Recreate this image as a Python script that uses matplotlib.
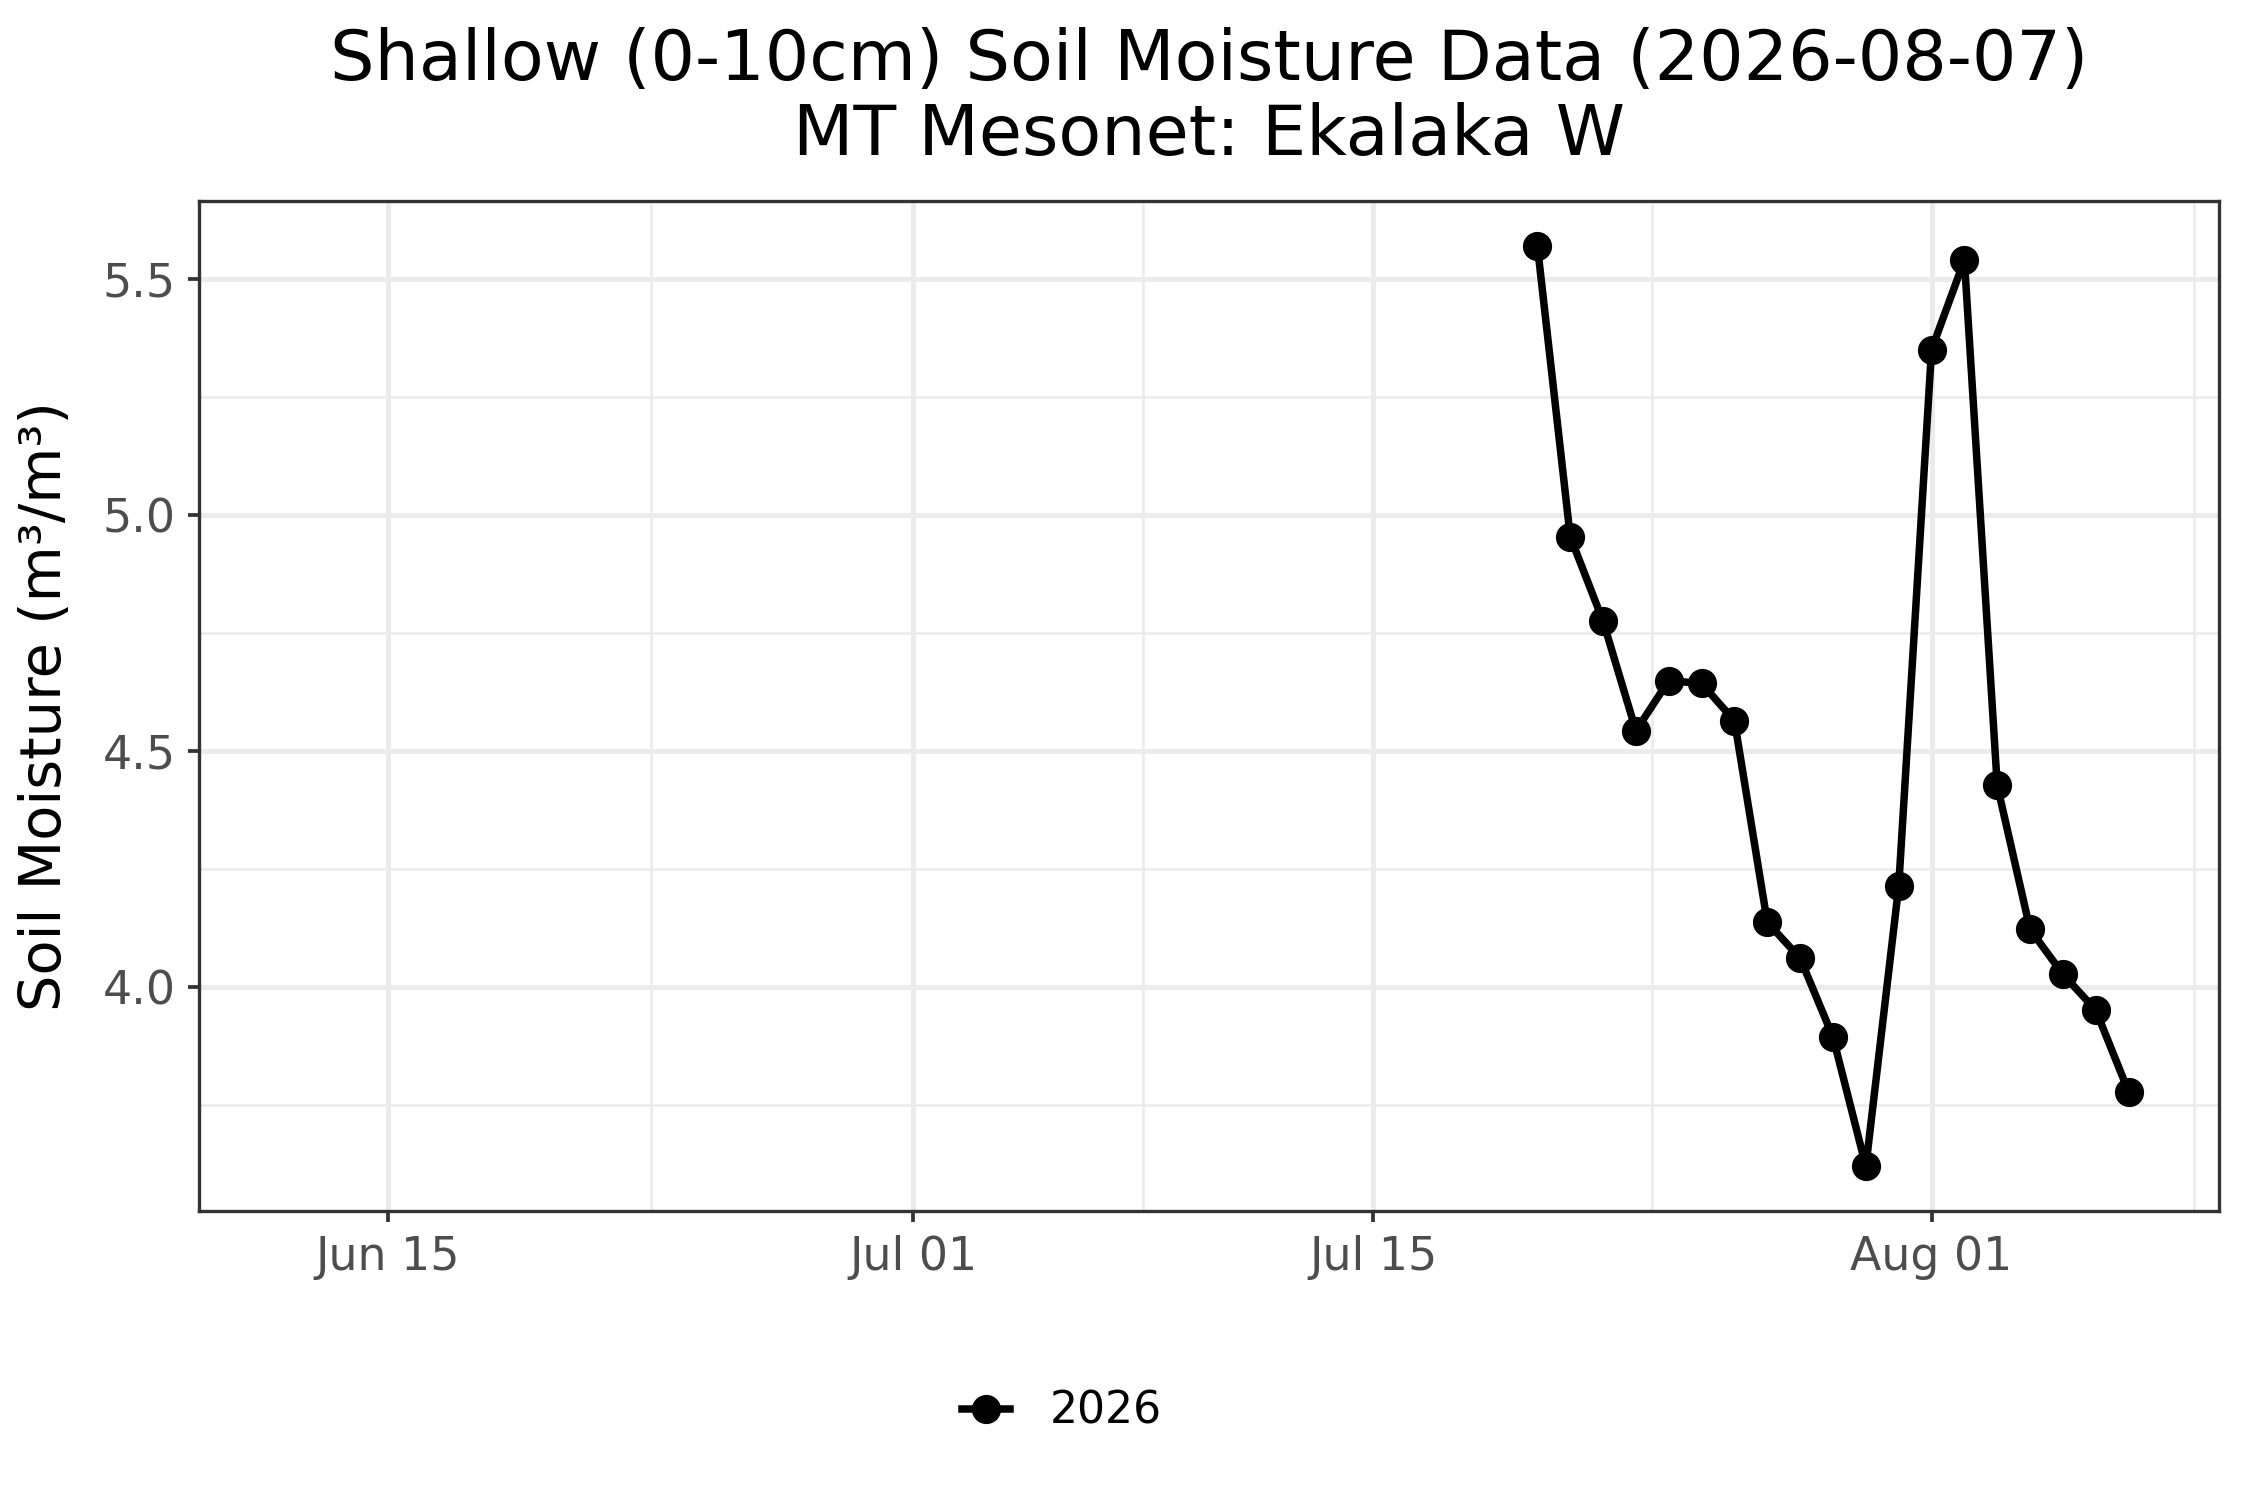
import datetime as dt
import matplotlib
matplotlib.use("Agg")
import matplotlib.pyplot as plt
import matplotlib.dates as mdates

# daily shallow soil moisture, Jul 20 - Aug 07 2026
dates = [dt.date(2026, 7, 20) + dt.timedelta(days=i) for i in range(19)]
moisture = [5.57, 4.954, 4.775, 4.543, 4.649, 4.643, 4.564, 4.137, 4.061, 3.894,
            3.620, 4.213, 5.350, 5.540, 4.427, 4.122, 4.027, 3.951, 3.778]
series_label = "2026"

major_ticks = [dt.date(2026, 6, 15), dt.date(2026, 7, 1), dt.date(2026, 7, 15), dt.date(2026, 8, 1)]
minor_ticks = [dt.datetime(2026, 6, 23), dt.datetime(2026, 7, 8), dt.datetime(2026, 7, 23, 12),
               dt.datetime(2026, 8, 9)]
y_major = [4.0, 4.5, 5.0, 5.5]
y_minor = [3.75, 4.25, 4.75, 5.25]

plt.rcParams['font.family'] = ['DejaVu Sans']

fig = plt.figure(figsize=(7.5, 5), dpi=300)
ax = fig.add_axes([0.0884, 0.1925, 0.8978, 0.6735])

ax.plot(dates, moisture, color="black", lw=1.8, marker="o", ms=6.0, label=series_label, zorder=3)

ax.set_xlim(dt.datetime(2026, 6, 9, 6), dt.datetime(2026, 8, 9, 18))
ax.set_ylim(3.525, 5.665)

ax.set_xticks(major_ticks)
ax.set_xticks(minor_ticks, minor=True)
ax.xaxis.set_major_formatter(mdates.DateFormatter("%b %d"))
ax.set_yticks(y_major)
ax.set_yticks(y_minor, minor=True)
ax.yaxis.set_major_formatter(plt.FormatStrFormatter("%.1f"))

ax.grid(which="major", color="#EBEBEB", lw=1.2)
ax.grid(which="minor", color="#EBEBEB", lw=0.6)
ax.set_axisbelow(True)
ax.tick_params(which="major", length=2.6, width=0.9, color="#333333", labelsize=11,
               labelcolor="#4D4D4D", pad=3)
ax.tick_params(which="minor", length=0)
for s in ax.spines.values():
    s.set_color("#333333")
    s.set_linewidth(0.8)

ax.set_ylabel("Soil Moisture (m³/m³)", fontsize=13.8, labelpad=7)
ax.set_title("Shallow (0-10cm) Soil Moisture Data (2026-08-07)\nMT Mesonet: Ekalaka W",
             fontsize=16.8, pad=11, linespacing=1.15)

fig.legend(loc="center", bbox_to_anchor=(0.472, 0.059), frameon=False, fontsize=10.6,
           handlelength=1.1, handletextpad=0.9)

fig.savefig("out.png", dpi=300)
